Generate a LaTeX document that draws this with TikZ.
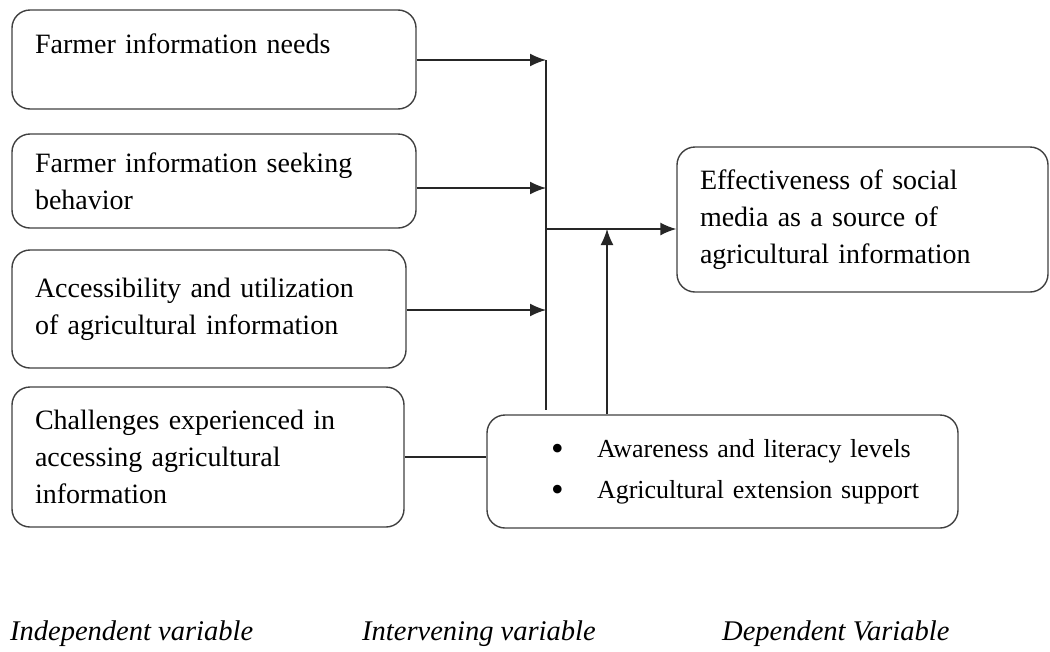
\documentclass[tikz,border=0pt]{standalone}
\usepackage{fontspec}
\setmainfont{Liberation Serif}
\usetikzlibrary{arrows.meta}
\newcommand{\bulletitem}[1]{\hspace*{41pt}\makebox[46pt][l]{\raisebox{-3pt}{\fontsize{36}{41}\selectfont\textbullet}}#1}
\tikzset{varbox/.style={draw=black!75, line width=1.4pt, rounded corners=18pt, align=left, inner xsep=23pt, inner ysep=0pt, font=\fontsize{28}{37}\selectfont}}
\tikzset{link/.style={draw=black!85, line width=1.5pt}}
\tikzset{arr/.style={link, -{Latex[length=16pt,width=13pt]}}}
\tikzset{varlbl/.style={inner sep=0pt, anchor=base west, font=\fontsize{28.5}{37}\selectfont\itshape}}

\begin{document}
\begin{tikzpicture}[x=1pt,y=-1pt]
\useasboundingbox (0,0) rectangle (1050,651);

\node[varbox, text width=358pt, minimum height=99pt, text depth=31pt] (needs) at (214,59.5) {Farmer information needs};
\node[varbox, text width=358pt, minimum height=94pt] (seeking) at (214,181) {Farmer information seeking\\behavior};
\node[varbox, text width=348pt, minimum height=118pt] (access) at (209,309) {Accessibility and utilization\\of agricultural information};
\node[varbox, text width=346pt, minimum height=140pt] (challenges) at (208,457) {Challenges experienced in\\accessing agricultural\\information};
\node[varbox, text width=425pt, minimum height=113pt, font=\fontsize{26}{41}\selectfont] (interv) at (722.5,471.5) {\bulletitem{Awareness and literacy levels}\\\bulletitem{Agricultural extension support}};
\node[varbox, text width=325pt, minimum height=145pt] (effect) at (862.5,219.5) {Effectiveness of social\\media as a source of\\agricultural information};

\coordinate (bustop) at (546,60);
\coordinate (busbot) at (546,410);
\coordinate (jseek) at (546,188);
\coordinate (jacc) at (546,310);
\coordinate (jout) at (546,229);
\coordinate (jup) at (607,229);

\draw[link] (bustop) -- (busbot);
\draw[arr] (needs.east |- bustop) -- (bustop);
\draw[arr] (seeking.east |- jseek) -- (jseek);
\draw[arr] (access.east |- jacc) -- (jacc);
\draw[arr] (jout) -- (jout -| effect.west);
\draw[arr] (interv.north -| jup) -- (jup);
\draw[link] (challenges.east) -- (challenges.east -| interv.west);

\node[varlbl] (indeplbl) at (10,640) {Independent variable};
\node[varlbl] (intervlbl) at (362,640) {Intervening variable};
\node[varlbl] (deplbl) at (722,640) {Dependent Variable};

\end{tikzpicture}
\end{document}
